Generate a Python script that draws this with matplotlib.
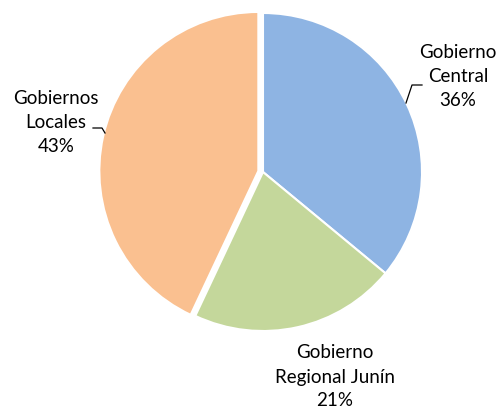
import matplotlib.pyplot as plt

labels = ["Gobierno\nCentral", "Gobierno\nRegional Junín", "Gobiernos\nLocales"]
values = [36, 21, 43]
colors = ["#8EB4E3", "#C4D79B", "#FAC090"]
explode = [0, 0, 0.03]

W, H = 502, 409
cx, cy, r = 263, 172, 159  # pie centre / radius in pixels


def px(x, y):
    # pixel (from top-left) -> data units of the pie
    return (x - cx) / r, (cy - y) / r


fig = plt.figure(figsize=(W / 100, H / 100), dpi=100)
ax = fig.add_axes([0, 0, 1, 1])
ax.pie(values, colors=colors, explode=explode, startangle=90, counterclock=False,
       wedgeprops=dict(edgecolor="white", linewidth=1.5))
x0, y0 = px(0, 0)
x1, y1 = px(W, H)
ax.set_xlim(x0, x1)
ax.set_ylim(y1, y0)
ax.set_aspect("auto")
ax.axis("off")

font = dict(family="Lato", fontsize=13.5, color="black", ha="center", va="center",
            linespacing=1.5)
lab_pos = [(458, 76), (335, 377), (56, 122)]
for lab, v, (lx, ly) in zip(labels, values, lab_pos):
    tx, ty = px(lx, ly)
    ax.text(tx, ty, "{}\n{}%".format(lab, v), **font)

# leader lines
for pts in [[(406, 103), (412, 85), (422, 85)], [(105, 133), (102, 128), (93, 128)]]:
    xs, ys = zip(*[px(a, b) for a, b in pts])
    ax.plot(xs, ys, color="black", linewidth=0.9)

fig.savefig("out.png", dpi=100)
